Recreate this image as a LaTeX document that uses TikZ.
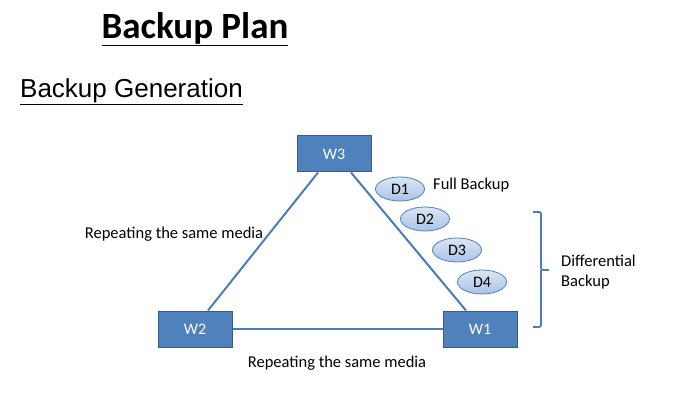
\documentclass[tikz,border=0pt]{standalone}
\usepackage{fontspec}
\setmainfont{Carlito}
\newfontfamily\arialf{Liberation Sans}
\usetikzlibrary{shapes.geometric}
\definecolor{boxblue}{HTML}{4F81BD}
\definecolor{boxedge}{HTML}{385D8A}
\definecolor{linblue}{HTML}{4A7EBB}
\definecolor{ellA}{HTML}{DCE6F4}
\definecolor{ellB}{HTML}{A9C3E6}
\begin{document}
\begin{tikzpicture}[x=1pt,y=-1pt,
  wbox/.style={draw=boxedge,fill=boxblue,line width=1pt,minimum width=74pt,minimum height=36pt,text=white,font=\fontsize{16}{18}\selectfont,inner sep=0pt},
  disk/.style={ellipse,draw=boxblue,line width=0.8pt,top color=ellA,bottom color=ellB,minimum width=49pt,minimum height=24pt,inner sep=0pt,font=\fontsize{16}{18}\selectfont},
  conn/.style={draw=linblue,line width=2pt},
  lbl/.style={font=\fontsize{16.5}{20}\selectfont,inner sep=0pt}]
\useasboundingbox (0,0) rectangle (678,393);
\fill[white] (0,0) rectangle (678,393);
\node[inner sep=0pt,font=\fontsize{37}{40}\selectfont\bfseries] (title) at (195,29) {\underline{Backup Plan}};
\node[inner sep=0pt,anchor=west,font=\arialf\fontsize{26}{30}\selectfont] (sub) at (20,92) {\underline{Backup Generation}};
\node[wbox] (w3) at (334,154) {W3};
\node[wbox] (w2) at (195,329) {W2};
\node[wbox] (w1) at (480,329) {W1};
\draw[conn] ([xshift=-16pt]w3.south) -- ([xshift=13pt]w2.north);
\draw[conn] ([xshift=17pt]w3.south) -- ([xshift=-14pt]w1.north);
\draw[conn] (w2.east) -- (w1.west);
\node[disk] (d1) at (400,189) {D1};
\node[disk] (d2) at (425,219) {D2};
\node[disk] (d3) at (457,250) {D3};
\node[disk] (d4) at (482,282) {D4};
\node[lbl,anchor=west] (fb) at (433,185) {Full Backup};
\node[lbl,anchor=west,align=left] (db) at (561,272) {Differential\\Backup};
\node[lbl] (rl) at (174,234) {Repeating the same media};
\node[lbl] (rb) at (337,363) {Repeating the same media};
\coordinate (bt) at (533,212);
\coordinate (bb) at (533,327);
\coordinate (bm) at (549,270);
\draw[conn,line width=1.8pt,rounded corners=2pt] (bt) -- (541,212) -- (541,270) -- (bm) (541,270) -- (541,327) -- (bb);
\end{tikzpicture}
\end{document}
